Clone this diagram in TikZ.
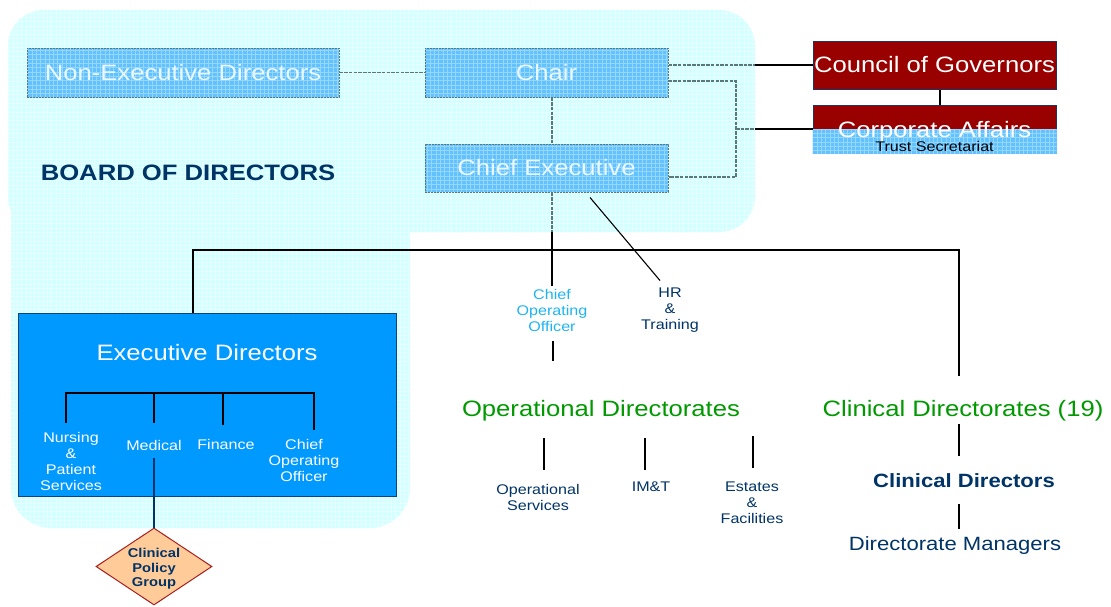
\documentclass[tikz,border=0pt]{standalone}
\usepackage{fontspec}
\setmainfont{Liberation Sans}[FakeStretch=1.15]
\usetikzlibrary{shapes.geometric}

\definecolor{boardbg}{RGB}{210,255,255}
\definecolor{boardgrid}{RGB}{232,255,255}
\definecolor{boxblue}{RGB}{98,194,255}
\definecolor{boxgrid}{RGB}{150,215,255}
\definecolor{boxtext}{RGB}{236,248,255}
\definecolor{dashgray}{RGB}{90,120,120}
\definecolor{execblue}{RGB}{0,153,255}
\definecolor{execedge}{RGB}{25,65,120}
\definecolor{govred}{RGB}{153,0,0}
\definecolor{govedge}{RGB}{30,50,100}
\definecolor{dirgreen}{RGB}{0,153,0}
\definecolor{navy}{RGB}{0,51,102}
\definecolor{cooblue}{RGB}{30,180,240}
\definecolor{policyfill}{RGB}{255,204,153}
\definecolor{policyedge}{RGB}{170,30,30}

\newcommand\lblBig{\fontsize{22.3}{26}\selectfont}
\newcommand\lblMid{\fontsize{19.2}{22}\selectfont}
\newcommand\lblSmall{\fontsize{14}{16}\selectfont}
\newcommand\lblTiny{\fontsize{12.8}{14.5}\selectfont}

\begin{document}
\begin{tikzpicture}[x=1pt,y=1pt,
  mesh/.style={path picture={\draw[solid,#1,line width=0.45pt]
      ([xshift=-5pt,yshift=-5pt]path picture bounding box.south west)
      grid[step=4.3pt] (path picture bounding box.north east);}},
  mesh/.default={boxgrid},
  panel/.style={draw=dashgray, dash pattern=on 2pt off 1pt, line width=1pt,
      fill=boxblue, mesh, text=boxtext, font=\lblBig,
      minimum width=243pt, minimum height=49pt, inner sep=0pt},
  govbox/.style={draw=govedge, line width=1pt, fill=govred, text=white,
      font=\lblBig, minimum width=243pt, minimum height=48pt, inner sep=0pt},
  sublabel/.style={font=\lblSmall, align=center, inner sep=0pt},
  link/.style={black, line width=1.6pt},
  thinlink/.style={black, line width=1.1pt},
  dashlink/.style={dashgray, line width=1.2pt, dash pattern=on 3.5pt off 1.2pt}
]
\useasboundingbox (0,0) rectangle (1111,-606);

% board background panels
\fill[boardbg, mesh=boardgrid, rounded corners=40pt] (11,-10) rectangle (410,-528);
\fill[boardbg, mesh=boardgrid, rounded corners=36pt] (8,-10) rectangle (755,-232);

% board members
\node[panel, minimum width=312pt] (ned) at (183,-72.5) {Non-Executive Directors};
\node[panel] (chair) at (546.5,-72.5) {Chair};
\node[panel, minimum height=48pt] (ceo) at (546.5,-168) {Chief Executive};
\node[font=\lblBig\bfseries, text=navy] (board) at (188,-173) {BOARD OF DIRECTORS};

% governors and corporate affairs
\node[govbox] (cog) at (934.5,-65) {Council of Governors};
\node[govbox] (corp) at (934.5,-129) {};
\fill[boxblue, mesh] (corp.west) rectangle (corp.south east);
\node[text=white, font=\lblBig, inner sep=0pt] (corptitle) at (934.5,-131.5) {Corporate Affairs};
\node[font=\lblSmall, text=black, inner sep=0pt] (trustsec) at (934.5,-146.5) {Trust Secretariat};
\draw[link, line width=1.4pt] (cog.south -| 940,0) -- (corp.north -| 940,0);

% dashed board links
\draw[dashlink] (ned.east) -- (chair.west);
\draw[dashlink] ([xshift=5.5pt]chair.south) -- ([xshift=5.5pt]ceo.north);
\coordinate (govjoin) at (755,-65);
\coordinate (corpjoin) at (755,-129);
\coordinate (bracket) at (736,-129);
\draw[dashlink] (chair.east |- govjoin) -- (govjoin);
\draw[link] (govjoin) -- (cog.west);
\draw[dashlink] ([yshift=-8.5pt]chair.east) -| (bracket) |- ([yshift=-9pt]ceo.east);
\draw[dashlink] (bracket) -- (corpjoin);
\draw[link] (corpjoin) -- (corp.west);

% executive directors
\node[draw=execedge, line width=1pt, fill=execblue, minimum width=378pt,
      minimum height=183pt, inner sep=0pt] (exec) at (207,-404.5) {};
\node[text=white, font=\lblBig, inner sep=0pt] (exectitle) at (207,-353) {Executive Directors};
\node[sublabel, text=white] (nursing) at (71,-461) {Nursing\\\&\\Patient\\Services};
\node[sublabel, text=white] (medical) at (154,-445) {Medical};
\node[sublabel, text=white] (finance) at (226,-444) {Finance};
\node[sublabel, text=white] (execcoo) at (304,-460) {Chief\\Operating\\Officer};
\coordinate (edbarL) at (66,-393);
\coordinate (edbarR) at (314,-393);
\coordinate (nursingtop) at (66,-423);
\coordinate (medicaltop) at (154,-423);
\coordinate (financetop) at (223,-425);
\coordinate (execcootop) at (314,-430);
\draw[link] (nursingtop) -- (edbarL) -- (edbarR) -- (execcootop);
\draw[link] (medicaltop) -- (medicaltop |- edbarL);
\draw[link] (financetop) -- (financetop |- edbarL);

% clinical policy group
\node[diamond, draw=policyedge, fill=policyfill, line width=1pt, aspect=1.5,
      minimum width=116pt, minimum height=77pt, inner sep=0pt] (cpg) at (154,-566.5) {};
\node[font=\lblTiny\bfseries, text=navy, align=center, inner sep=0pt] (cpgtext)
      at (154,-569) {Clinical\\Policy\\Group};
\draw[link, draw=navy] ([yshift=-8pt]medical.south) -- (cpg.north);

% management line
\coordinate (ceodrop) at (552,-232);
\coordinate (busL) at (193,-250);
\coordinate (busR) at (959,-250);
\coordinate (clinicaltop) at (959,-376);
\node[sublabel, text=cooblue] (coo) at (552,-310) {Chief\\Operating\\Officer};
\node[sublabel, text=navy] (hr) at (670,-310) {HR\\\&\\Training};
\draw[dashlink] ([xshift=5.5pt]ceo.south) -- (ceodrop);
\draw[link] (ceodrop) -- ([yshift=3pt]coo.north);
\draw[link] (exec.north -| busL) -- (busL) -- (busR) -- (clinicaltop);
\draw[thinlink] ([xshift=43.5pt,yshift=-5pt]ceo.south) -- ([xshift=-10pt,yshift=7pt]hr.north);

% operational directorates
\node[font=\lblBig, text=dirgreen, inner sep=0pt] (opdir) at (601,-411) {Operational Directorates};
\draw[link] ([xshift=1pt,yshift=-10pt]coo.south) -- ([xshift=1pt,yshift=-30pt]coo.south);
\node[sublabel, text=navy] (opserv) at (538,-497) {Operational\\Services};
\node[sublabel, text=navy] (imt) at (651,-487) {IM\&T};
\node[sublabel, text=navy] (estates) at (752,-503) {Estates\\\&\\Facilities};
\draw[link] (544,-438) -- (544,-470);
\draw[link] (645,-438) -- (645,-470);
\draw[link] (753,-436) -- (753,-468);

% clinical directorates
\node[font=\lblBig, text=dirgreen, inner sep=0pt] (clindir) at (963,-411) {Clinical Directorates (19)};
\node[font=\lblMid\bfseries, text=navy, inner sep=0pt] (clindirs) at (964,-481) {Clinical Directors};
\node[font=\lblMid, text=navy, inner sep=0pt] (dirmgr) at (955,-546) {Directorate Managers};
\draw[link] (959,-424) -- (959,-456);
\draw[link] (959,-504) -- (959,-529);
\end{tikzpicture}
\end{document}
